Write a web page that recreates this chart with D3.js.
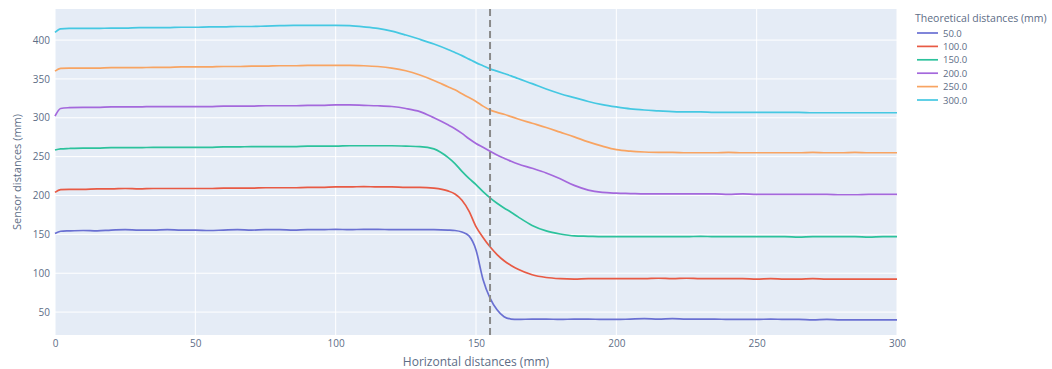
<!DOCTYPE html>
<html>
<head>
<meta charset="utf-8">
<script src="https://cdn.jsdelivr.net/npm/d3@7"></script>
<style>
	body { margin: 0; background: #fff; }
	text { font-family: "Open Sans", verdana, arial, sans-serif; }
</style>
</head>
<body>
<div id="chart"></div>
<script>
// horizontal positions (mm), shared by all series
var xs = [0, 2, 5, 10, 15, 20, 25, 30, 35, 40, 45, 50, 55, 60, 65, 70, 75, 80, 85, 90, 95, 100,
	105, 110, 115, 120, 125, 130, 135, 140, 142.5, 145, 147.5, 150, 152.5, 155, 157.5, 160, 162.5, 165,
	170, 175, 180, 185, 190, 195, 200, 205, 210, 215, 220, 225, 230, 235, 240, 245, 250, 255, 260,
	265, 270, 275, 280, 285, 290, 295, 300];

var names = ["50.0", "100.0", "150.0", "200.0", "250.0", "300.0"];
var colors = ["#6a70d2", "#e85a44", "#2cc29c", "#a468dc", "#f8a462", "#45c8e2"];

var s50 = [151, 154, 154.5, 155, 154.5, 155.5, 156, 155.5, 155.5, 156, 155.5, 155.5, 155, 155.5, 156, 155.5, 156, 156, 155.5, 156, 156, 156.5,
	156, 156.5, 156.5, 156, 156, 156, 156, 155.5, 155, 153, 148, 130, 92, 68, 53, 44, 41, 40.5,
	41, 41, 40.5, 41, 41, 40.5, 40.5, 41, 41.5, 41, 41.5, 41, 41, 41, 40.5, 40.5, 40.5, 41, 40.5,
	40.5, 40, 40.5, 40, 40, 40, 40, 40];
var s100 = [204, 207.5, 208, 208, 208.5, 208.5, 209, 208.5, 209, 209, 209, 209, 209, 209.5, 209.5, 209.5, 210, 210, 210, 210.5, 210.5, 211,
	211, 211.5, 211, 211, 210.5, 210.5, 209.5, 206, 202, 194, 180, 160, 146, 134, 124, 116, 110, 105,
	98, 94.5, 93, 92.5, 93, 93, 93, 93, 93, 93.5, 93, 93.5, 93, 93, 93, 93, 92.5, 93, 92.5,
	92.5, 93, 92.5, 92.5, 92.5, 92.5, 92.5, 92.5];
var s150 = [258.5, 260, 260.5, 261, 261, 261.5, 261.5, 261.5, 262, 262, 262, 262, 262, 262.5, 262.5, 263, 263, 263, 263, 263.5, 263.5, 263.5,
	264, 264, 264, 264, 263.5, 263, 260, 249, 241, 231, 222, 214, 205, 197, 190, 184, 178.5, 172.5,
	161.5, 154.5, 150.5, 148, 147.5, 147, 147, 147, 147, 147, 147, 147, 147.5, 147, 147, 147, 147, 147, 147,
	146.5, 147, 147, 147, 147, 146.5, 147, 147];
var s200 = [302, 312, 313, 313.5, 313.5, 314, 314, 314, 314.5, 314.5, 314.5, 314.5, 314.5, 315, 315, 315, 315.5, 315.5, 315.5, 316, 316, 316.5,
	316.5, 316, 315.5, 314.5, 312, 308, 300, 291, 286, 280, 273, 267, 262, 257, 252, 248, 244, 240.5,
	235, 229, 221.5, 213, 207, 204, 203, 202.5, 202, 202, 202, 202, 202, 202, 201.5, 202, 201.5, 201.5, 201.5,
	201.5, 201.5, 201.5, 201, 201, 201.5, 201.5, 201.5];
var s250 = [360, 363.5, 364, 364, 364, 364.5, 364.5, 364.5, 365, 365, 365.5, 365.5, 365.5, 366, 366, 366.5, 366.5, 367, 367, 367.5, 367.5, 367.5,
	367.5, 367, 366, 364, 360.5, 355, 348, 340, 336, 331, 326, 321, 315, 310, 307, 304.5, 301.5, 298.5,
	293, 287.5, 281.5, 275.5, 269, 263.5, 259, 257, 256, 255.5, 255.5, 255, 255, 255, 255.5, 255, 255, 255, 255,
	255, 255.5, 255, 255, 255.5, 255, 255, 255];
var s300 = [410, 414.5, 415, 415, 415, 415.5, 415.5, 416, 416, 416, 416.5, 416.5, 417, 417, 417.5, 417.5, 418, 418.5, 419, 419, 419, 419,
	418.5, 417, 415, 411.5, 406.5, 401, 395, 388, 384, 380, 375.5, 371, 367, 363, 360, 357, 354, 350.5,
	344, 337, 331, 326, 321, 317, 314, 311.5, 310, 309, 308, 307.5, 307.5, 307, 307, 307, 307, 307, 307,
	307, 306.5, 306.5, 306.5, 306.5, 306.5, 306.5, 306.5];

var yTicks = [50, 100, 150, 200, 250, 300, 350, 400];
var xTicks = [0, 50, 100, 150, 200, 250, 300];
var markerX = 155;

var seriesList = [s50, s100, s150, s200, s250, s300];

var width = 1052;
var height = 369;
var margin = {left: 55, right: 155, top: 9, bottom: 34};
var textColor = "#5d6d86";

var svg = d3.select("#chart").append("svg")
	.attr("width", width)
	.attr("height", height);

var x = d3.scaleLinear().domain([0, 300]).range([margin.left, width - margin.right]);
var y = d3.scaleLinear().domain([20.5, 440]).range([height - margin.bottom, margin.top]);

// plot background
svg.append("rect")
	.attr("x", x(0))
	.attr("y", margin.top)
	.attr("width", x(300) - x(0))
	.attr("height", height - margin.bottom - margin.top)
	.attr("fill", "#e5ecf6");

// grid
svg.append("g")
	.selectAll("line")
	.data(yTicks)
	.enter().append("line")
	.attr("x1", x(0)).attr("x2", x(300))
	.attr("y1", function(d) { return y(d); })
	.attr("y2", function(d) { return y(d); })
	.attr("stroke", "#fff")
	.attr("stroke-width", 1);

svg.append("g")
	.selectAll("line")
	.data(xTicks)
	.enter().append("line")
	.attr("y1", margin.top).attr("y2", height - margin.bottom)
	.attr("x1", function(d) { return x(d); })
	.attr("x2", function(d) { return x(d); })
	.attr("stroke", "#fff")
	.attr("stroke-width", 1);

// axes (labels only, plotly style)
var xAxis = svg.append("g")
	.attr("transform", "translate(0," + (height - margin.bottom) + ")")
	.call(d3.axisBottom(x).tickValues(xTicks).tickSize(0).tickPadding(5));
var yAxis = svg.append("g")
	.attr("transform", "translate(" + margin.left + ",0)")
	.call(d3.axisLeft(y).tickValues(yTicks).tickSize(0).tickPadding(5));
[xAxis, yAxis].forEach(function(a) {
	a.select(".domain").remove();
	a.selectAll("text")
		.attr("fill", textColor)
		.style("font-size", "10px");
});

svg.append("text")
	.attr("x", (x(0) + x(300)) / 2)
	.attr("y", 366)
	.attr("text-anchor", "middle")
	.attr("fill", textColor)
	.style("font-size", "12px")
	.text("Horizontal distances (mm)");

svg.append("text")
	.attr("transform", "translate(21," + ((margin.top + height - margin.bottom) / 2) + ") rotate(-90)")
	.attr("text-anchor", "middle")
	.attr("fill", textColor)
	.style("font-size", "11px")
	.text("Sensor distances (mm)");

// lines
var line = d3.line()
	.curve(d3.curveMonotoneX)
	.x(function(d, i) { return x(xs[i]); })
	.y(function(d) { return y(d); });

svg.append("g")
	.selectAll("path")
	.data(seriesList)
	.enter().append("path")
	.attr("d", line)
	.attr("fill", "none")
	.attr("stroke", function(d, i) { return colors[i]; })
	.attr("stroke-width", 1.7)
	.attr("stroke-linejoin", "round");

// dashed marker
svg.append("line")
	.attr("x1", x(markerX)).attr("x2", x(markerX))
	.attr("y1", margin.top).attr("y2", height - margin.bottom)
	.attr("stroke", "#8a8a8a")
	.attr("stroke-width", 2)
	.attr("stroke-dasharray", "7,4");

// legend
var legend = svg.append("g").attr("transform", "translate(915,0)");
legend.append("text")
	.attr("x", 0).attr("y", 22)
	.attr("fill", textColor)
	.style("font-size", "10.5px")
	.text("Theoretical distances (mm)");
var items = legend.selectAll("g.item")
	.data(names)
	.enter().append("g")
	.attr("class", "item")
	.attr("transform", function(d, i) { return "translate(0," + (33 + i * 13.4) + ")"; });
items.append("line")
	.attr("x1", 2).attr("x2", 23)
	.attr("stroke", function(d, i) { return colors[i]; })
	.attr("stroke-width", 1.7);
items.append("text")
	.attr("x", 28).attr("y", 3.5)
	.attr("fill", textColor)
	.style("font-size", "9.5px")
	.text(function(d) { return d; });
</script>
</body>
</html>
